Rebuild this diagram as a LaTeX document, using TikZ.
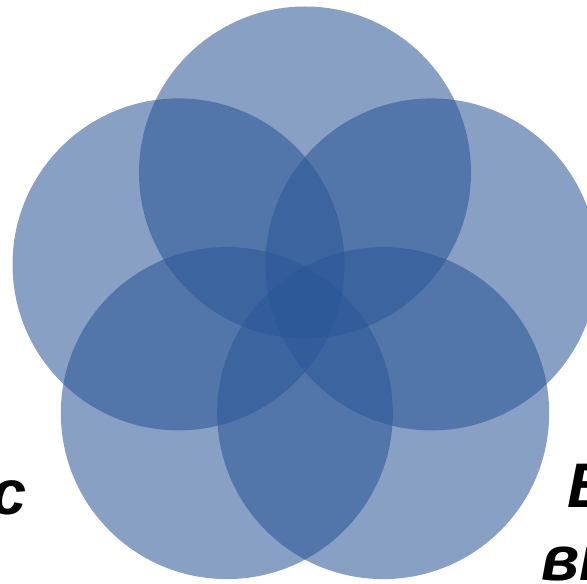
\documentclass[tikz,border=0pt]{standalone}
\usepackage{fontspec}
\setmainfont{Liberation Sans}
\usetikzlibrary{calc}
\definecolor{petalblue}{RGB}{42,86,150}

\begin{document}
\begin{tikzpicture}[
    x=1pt, y=1pt,
    petal/.style={circle, draw=none, fill=petalblue, fill opacity=0.56,
        minimum size=332pt, inner sep=0pt},
    word/.style={inner sep=0pt, font=\fontsize{63}{73}\selectfont\bfseries\itshape},
]
\useasboundingbox (0,0) rectangle (587,584);
\clip (0,0) rectangle (587,584);

% Centre of the rosette
\coordinate (O) at (305,278.5);

% Five overlapping circles
\node[petal] (Ptop)   at ($(O)+(90:133)$)  {};
\node[petal] (Pleft)  at ($(O)+(162:133)$) {};
\node[petal] (Pright) at ($(O)+(18:133)$)  {};
\node[petal] (Pbl)    at ($(O)+(234:133)$) {};
\node[petal] (Pbr)    at ($(O)+(306:133)$) {};

% Cut-off labels at the edges
\node[word, anchor=base east] (Lleft) at (27,69) {с};
\node[word, anchor=base west] (Lright) at (567,76) {В};
\node[word, anchor=base west] (Lright2) at (541,3) {ві};

\end{tikzpicture}
\end{document}
